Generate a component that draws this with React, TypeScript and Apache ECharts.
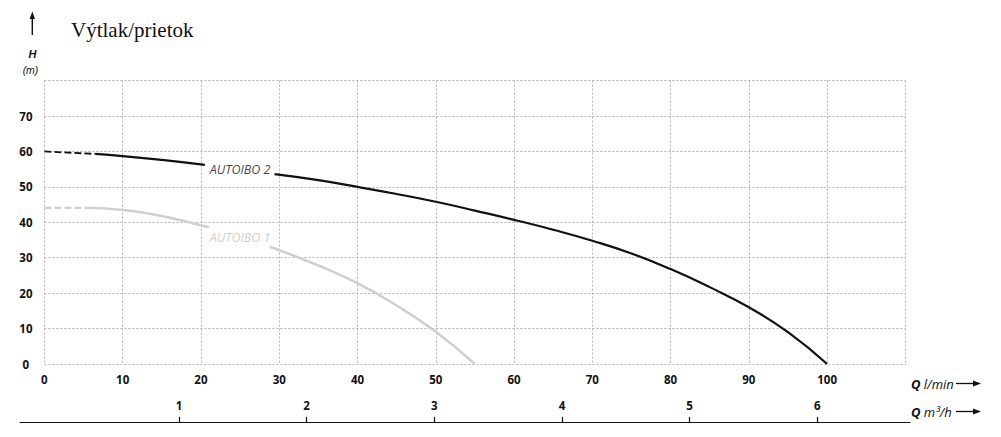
import React, { useEffect, useRef } from "react";
import * as echarts from "echarts";

// Q (l/min) / H (m) points
const autoibo2Dashed = [[0, 60], [6.5, 59.3]];
const autoibo2SolidA = [[6.5, 59.3], [10, 58.7], [15, 57.6], [20.5, 56.2]];
const autoibo2SolidB = [[29.4, 53.6], [35, 51.9], [40, 50.0], [45, 48.0], [50, 45.8], [55, 43.3], [60, 40.7], [65, 37.9], [70, 34.8], [75, 31.2], [80, 26.8], [85, 21.7], [90, 16.0], [95, 9.0], [100, 0]];
const autoibo1Dashed = [[0, 44.1], [5.4, 44.1]];
const autoibo1SolidA = [[5.4, 44.1], [10, 43.5], [15, 41.8], [21, 38.6]];
const autoibo1SolidB = [[28.8, 33.1], [35, 27.8], [40, 22.8], [45, 16.5], [50, 9.1], [55, 0]];
const seriesLabels = [
  { name: "AUTOIBO 2", at: [25, 54.95] },
  { name: "AUTOIBO 1", at: [25, 35.76] },
];
const m3hTicks = [1, 2, 3, 4, 5, 6];

const BLACK = "#111111";
const GRAY = "#cfcfcf";
const GRIDC = "#b3b3b3";
const NUMFONT = "'Open Sans', sans-serif";

export default function App() {
  const ref = useRef<HTMLDivElement>(null);
  useEffect(() => {
    if (!ref.current) return;
    const chart = echarts.init(ref.current, undefined, { renderer: "svg" });
    const gridLine = { show: true, lineStyle: { color: GRIDC, type: [2, 2], width: 1 } };
    const lineSeries = (data: number[][], color: string, width: number, dashed: boolean) => ({
      type: "line",
      data,
      xAxisIndex: 0,
      yAxisIndex: 0,
      symbol: "none",
      smooth: dashed ? false : 0.5,
      silent: true,
      lineStyle: { color, width, type: dashed ? [7, 3] : "solid" },
    });
    chart.setOption({
      animation: false,
      grid: [
        { left: 44.4, right: 95.6, top: 80.6, bottom: 73, containLabel: false },
        { left: 20, right: 91, top: 400, height: 22, containLabel: false },
      ],
      xAxis: [
        {
          gridIndex: 0,
          type: "value",
          min: 0,
          max: 110,
          interval: 10,
          axisLine: { show: false },
          axisTick: { show: false },
          splitLine: gridLine,
          axisLabel: {
            showMaxLabel: false,
            margin: 9,
            color: "#111",
            fontFamily: NUMFONT,
            fontWeight: "bold",
            fontSize: 11.5,
          },
        },
        {
          gridIndex: 1,
          type: "value",
          min: (20 - 51.3) / 127.66,
          max: (910 - 51.3) / 127.66,
          position: "bottom",
          axisLine: { show: true, onZero: false, lineStyle: { color: "#111", width: 1.2 } },
          axisTick: { show: true, inside: true, length: 5, customValues: m3hTicks, lineStyle: { color: "#111", width: 1.2 } },
          splitLine: { show: false },
          axisLabel: {
            show: true,
            inside: true,
            margin: 11,
            customValues: m3hTicks,
            color: "#111",
            fontFamily: NUMFONT,
            fontWeight: "bold",
            fontSize: 11.5,
          },
        },
      ],
      yAxis: [
        {
          gridIndex: 0,
          type: "value",
          min: 0,
          max: 80,
          interval: 10,
          axisLine: { show: false },
          axisTick: { show: false },
          splitLine: gridLine,
          axisLabel: {
            showMaxLabel: false,
            align: "center",
            margin: 18.5,
            color: "#111",
            fontFamily: NUMFONT,
            fontWeight: "bold",
            fontSize: 11.5,
          },
        },
        { gridIndex: 1, type: "value", show: false, min: 0, max: 1 },
      ],
      series: [
        lineSeries(autoibo1Dashed, GRAY, 2.2, true),
        lineSeries(autoibo1SolidA, GRAY, 2.5, false),
        lineSeries(autoibo1SolidB, GRAY, 2.5, false),
        lineSeries(autoibo2Dashed, BLACK, 1.8, true),
        lineSeries(autoibo2SolidA, BLACK, 2.2, false),
        lineSeries(autoibo2SolidB, BLACK, 2.2, false),
        {
          type: "scatter",
          xAxisIndex: 0,
          yAxisIndex: 0,
          symbolSize: 0,
          silent: true,
          data: seriesLabels.map((s, i) => ({
            value: s.at,
            label: {
              show: true,
              position: "inside",
              formatter: s.name,
              fontFamily: NUMFONT,
              fontStyle: "italic",
              fontSize: 12.5,
              color: i === 0 ? BLACK : "#c4c4c4",
            },
          })),
        },
      ],
      graphic: [
        {
          type: "text",
          left: 71,
          top: 19,
          style: { text: "Výtlak/prietok", font: "21px 'Liberation Serif', serif", fill: "#111" },
        },
        { type: "line", shape: { x1: 32.3, y1: 35, x2: 32.3, y2: 17 }, style: { stroke: "#111", lineWidth: 1.4 } },
        { type: "polygon", shape: { points: [[29.6, 19], [35, 19], [32.3, 11.5]] }, style: { fill: "#111" } },
        {
          type: "text",
          x: 32.5,
          y: 54,
          style: {
            text: "H",
            font: "italic bold 11px 'Liberation Sans', sans-serif",
            fill: "#111",
            align: "center",
            verticalAlign: "middle",
          },
        },
        {
          type: "text",
          x: 30.5,
          y: 69.5,
          style: {
            text: "(m)",
            font: "italic 10.5px 'Liberation Sans', sans-serif",
            fill: "#111",
            align: "center",
            verticalAlign: "middle",
          },
        },
        {
          type: "text",
          x: 911,
          y: 383.5,
          style: {
            text: "{b|Q} {i|l/min}",
            verticalAlign: "middle",
            rich: {
              b: { fontFamily: NUMFONT, fontStyle: "italic", fontWeight: "bold", fontSize: 13, fill: "#111" },
              i: { fontFamily: NUMFONT, fontStyle: "italic", fontSize: 13, fill: "#111" },
            },
          },
        },
        {
          type: "text",
          x: 911,
          y: 411.5,
          style: {
            text: "{b|Q} {i|m³/h}",
            verticalAlign: "middle",
            rich: {
              b: { fontFamily: NUMFONT, fontStyle: "italic", fontWeight: "bold", fontSize: 13, fill: "#111" },
              i: { fontFamily: NUMFONT, fontStyle: "italic", fontSize: 13, fill: "#111" },
            },
          },
        },
        { type: "line", shape: { x1: 956, y1: 383.5, x2: 975, y2: 383.5 }, style: { stroke: "#111", lineWidth: 1.3 } },
        { type: "polygon", shape: { points: [[973, 380.5], [981, 383.5], [973, 386.5]] }, style: { fill: "#111" } },
        { type: "line", shape: { x1: 956, y1: 411.5, x2: 975, y2: 411.5 }, style: { stroke: "#111", lineWidth: 1.3 } },
        { type: "polygon", shape: { points: [[973, 408.5], [981, 411.5], [973, 414.5]] }, style: { fill: "#111" } },
      ],
    });
    return () => chart.dispose();
  }, []);
  return (
    <div
      ref={ref}
      style={{ position: "fixed", left: 0, top: 0, width: 1001, height: 437, background: "#fff" }}
    />
  );
}
